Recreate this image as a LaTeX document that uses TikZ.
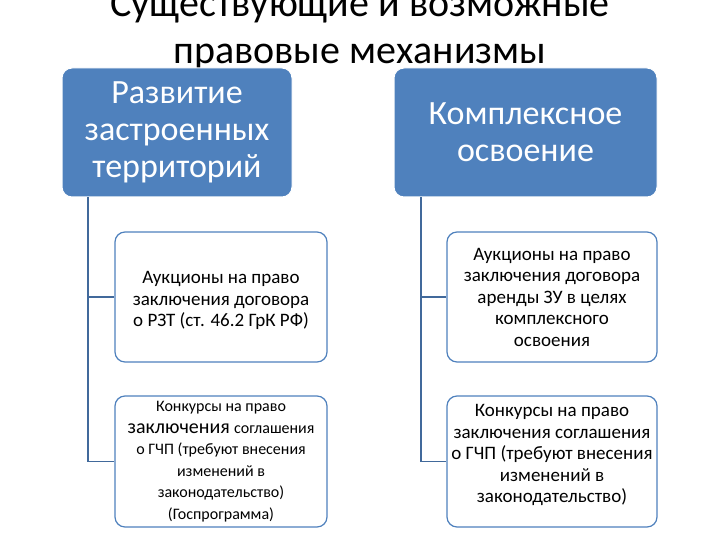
\documentclass[tikz,border=0pt]{standalone}
\usepackage{fontspec}
\setmainfont{Carlito}
\definecolor{mblue}{RGB}{79,129,189}
\definecolor{lblue}{RGB}{65,105,155}
\begin{document}
\begin{tikzpicture}[x=1pt,y=-1pt,
 parent/.style={draw=white,line width=1pt,fill=mblue,rounded corners=10pt,text=white,align=center,font=\fontsize{34}{37}\selectfont,inner sep=0},
 child/.style={draw=mblue,line width=1.2pt,fill=white,rounded corners=10pt,align=center,font=\fontsize{19}{21.5}\selectfont,inner sep=0},
 conn/.style={draw=lblue,line width=1.2pt}]
\useasboundingbox (0,0) rectangle (720,540);
\node[font=\fontsize{40}{47}\selectfont,align=center] (title) at (360,30) {Существующие и возможные\\правовые механизмы};
\node[parent,minimum width=230,minimum height=129] (p1) at (177,132.5) {Развитие\\застроенных\\территорий};
\node[parent,minimum width=263,minimum height=129] (p2) at (525.5,132.5) {Комплексное\\освоение};
\node[child,minimum width=212,minimum height=130] (c1) at (221,297) {\mbox{}\\[-2pt]Аукционы на право\\заключения договора\\о РЗТ (ст. 46.2 ГрК РФ)};
\node[child,minimum width=212,minimum height=131] (c2) at (221,461.5) {\fontsize{16}{19}\selectfont Конкурсы на право\\{\fontsize{20}{19}\selectfont заключения} {\fontsize{16}{19}\selectfont соглашения}\\\fontsize{16}{19}\selectfont о ГЧП (требуют внесения\\\fontsize{16}{19}\selectfont изменений в\\\fontsize{16}{19}\selectfont законодательство)\\\fontsize{16}{19}\selectfont (Госпрограмма)};
\node[child,minimum width=210,minimum height=130] (c3) at (552,297) {Аукционы на право\\заключения договора\\аренды ЗУ в целях\\комплексного\\освоения};
\node[child,minimum width=210,minimum height=131] (c4) at (552,461.5) {Конкурсы на право\\заключения соглашения\\о ГЧП (требуют внесения\\изменений в\\законодательство)\\[-6pt]\mbox{}};
\coordinate (a1) at (88,197.5);
\coordinate (a2) at (421,197.5);
\draw[conn] (a1) |- (c1.west);
\draw[conn] (a1) |- (c2.west);
\draw[conn] (a2) |- (c3.west);
\draw[conn] (a2) |- (c4.west);
\end{tikzpicture}
\end{document}
